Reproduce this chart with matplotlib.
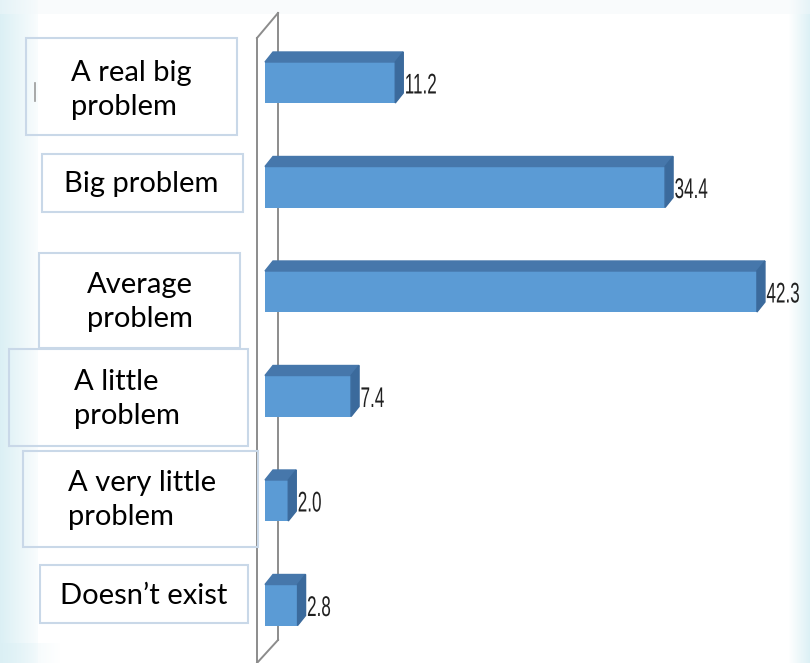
import numpy as np
import matplotlib
matplotlib.use("Agg")
import matplotlib.pyplot as plt
from matplotlib.patches import Polygon, Rectangle
from matplotlib.patheffects import AbstractPathEffect
from matplotlib.transforms import Affine2D

# ---- data -------------------------------------------------------------
categories = ["A real big\nproblem", "Big problem", "Average\nproblem",
              "A little\nproblem", "A very little\nproblem", "Doesn\u2019t exist"]
values = [11.2, 34.4, 42.3, 7.4, 2.0, 2.8]
value_labels = ["11.2", "34.4", "42.3", "7.4", "2.0", "2.8"]


class Squeeze(AbstractPathEffect):
    """Draw glyphs narrower, like a condensed typeface."""

    def __init__(self, sx):
        super().__init__()
        self.sx = sx

    def draw_path(self, renderer, gc, tpath, affine, rgbFace=None):
        renderer.draw_path(gc, tpath, Affine2D().scale(self.sx, 1.0) + affine,
                           rgbFace)


# ---- figure -----------------------------------------------------------
W, H = 810, 663
fig = plt.figure(figsize=(W / 100, H / 100), dpi=100)

# background layer in pixel coordinates
bg = fig.add_axes([0, 0, 1, 1])
bg.set_xlim(0, W)
bg.set_ylim(H, 0)
bg.axis("off")

grad = np.ones((H, W, 3))
light = np.array([0.86, 0.94, 0.96])
xs = np.arange(W)
left = np.clip(1 - xs / 38.0, 0, 1)[None, :, None]
right = np.clip((xs - 788) / 22.0, 0, 1)[None, :, None]
wash = np.maximum(left * 0.85 + (xs < 38)[None, :, None] * 0.15, right)
grad = grad * (1 - wash) + light * wash
# faint band along the top edge
grad[:14] = grad[:14] * 0.6 + np.array([0.95, 0.97, 0.98]) * 0.4
# soft wash in the bottom-left corner
corner = np.clip(1 - xs[:60] / 60.0, 0, 1)[None, :, None] * 0.6
grad[643:, :60] = grad[643:, :60] * (1 - corner) + light * corner
bg.imshow(grad, extent=(0, W, H, 0), aspect="auto", zorder=0)

# slanted wall of the 3-D chart
wall_col = "#8c8c8c"
bg.plot([257, 257], [38, 663], color=wall_col, lw=1.4, zorder=2)
bg.plot([278, 278], [13, 640], color=wall_col, lw=1.4, zorder=2)
bg.plot([257, 278], [38, 13], color=wall_col, lw=1.4, zorder=2)
bg.plot([278, 257], [640, 663], color=wall_col, lw=1.4, zorder=2)

# category label boxes: (x0, y0, x1, y1, text x, text y, alignment)
boxes = [
    (26, 38, 237, 135, 71, 90, "left"),
    (42, 154, 243, 212, 141, 184, "center"),
    (39, 253, 240, 348, 140, 302, "center"),
    (9, 349, 248, 446, 74, 399, "left"),
    (23, 451, 258, 547, 68, 500, "left"),
    (40, 565, 248, 623, 144, 596, "center"),
]
box_col = "#c9d8e8"
for (x0, y0, x1, y1, tx, ty, ha), label in zip(boxes, categories):
    bg.add_patch(Rectangle((x0, y0), x1 - x0, y1 - y0, fill=False,
                           edgecolor=box_col, lw=1.5, zorder=3))
    bg.text(tx, ty, label, ha=ha, va="center", multialignment=ha,
            fontsize=21, family=["Lato", "DejaVu Sans"], color="black",
            linespacing=1.4, zorder=4)
bg.plot([35, 35], [83, 101], color="#9a9a9a", lw=1.2, zorder=3)

# ---- bar layer in value units -----------------------------------------
ax = fig.add_axes([0, 0, 1, 1])
ax.patch.set_alpha(0)
ax.axis("off")
px_per_unit = 11.63
x_zero = 265.0
row_px = 104.5
first_row = 82.5
ax.set_xlim(-x_zero / px_per_unit, (W - x_zero) / px_per_unit)
ax.set_ylim((H - first_row) / row_px, -first_row / row_px)

pos = np.arange(len(values))
bar_h = 41 / row_px
dx = 8 / px_per_unit
dy = 10 / row_px

front = "#5b9bd5"
top_c = "#4677ab"
side_c = "#3b6a9c"

ax.barh(pos, values, height=bar_h, color=front, zorder=3)
for y, v, lab in zip(pos, values, value_labels):
    t = y - bar_h / 2
    b = y + bar_h / 2
    ax.add_patch(Polygon([(0, t), (dx, t - dy), (v + dx, t - dy), (v, t)],
                         closed=True, color=top_c, zorder=3))
    ax.add_patch(Polygon([(v, t), (v + dx, t - dy), (v + dx, b - dy), (v, b)],
                         closed=True, color=side_c, zorder=3))
    ax.text(v + dx + 1.5 / px_per_unit, y + 4 / row_px, lab, ha="left",
            va="center", fontsize=20.5, color="#202020",
            family=["Liberation Sans", "DejaVu Sans"], zorder=4,
            path_effects=[Squeeze(0.6)])

fig.savefig("out.png", dpi=100)
